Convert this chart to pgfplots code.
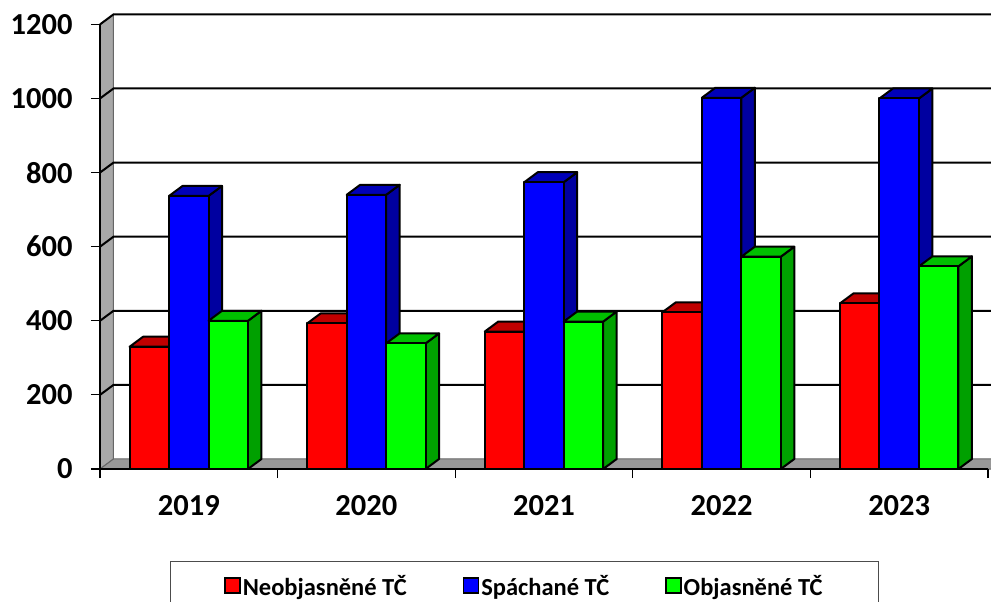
\documentclass[border=0pt]{standalone}
\usepackage{pgfplots}
\pgfplotsset{compat=1.18}
\usepackage{pgfplotstable}
\usepackage{fontspec}
\setmainfont{Carlito}

\definecolor{redF}{HTML}{FF0000}
\definecolor{redT}{HTML}{C00000}
\definecolor{redS}{HTML}{A00000}
\definecolor{blueF}{HTML}{0000FF}
\definecolor{blueT}{HTML}{0000B8}
\definecolor{blueS}{HTML}{0000A0}
\definecolor{greenF}{HTML}{00FF00}
\definecolor{greenT}{HTML}{00C000}
\definecolor{greenS}{HTML}{00A000}
\definecolor{wallC}{HTML}{A8A8A8}
\definecolor{floorC}{HTML}{989898}

\pgfplotstableread{
idx red blue green
0 330 737 400
1 393 740 339
2 371 774 398
3 423 1002 573
4 447 1000 547
}\datatable

\def\bw{0.2222}
\def\ddx{0.076}
\def\ddy{27}

\newcommand\threedbar[5]{%
  \pgfmathsetmacro\xa{#1-\bw/2}%
  \pgfmathsetmacro\xb{#1+\bw/2}%
  \pgfmathsetmacro\xc{#1-\bw/2+\ddx}%
  \pgfmathsetmacro\xd{#1+\bw/2+\ddx}%
  \pgfmathsetmacro\hlo{#2}%
  \pgfmathsetmacro\hup{#2+\ddy}%
  \edef\doit{%
    \noexpand\addplot[fill=#5,draw=black,line width=2pt,line join=round,forget plot] coordinates {(\xb,0) (\xd,\ddy) (\xd,\hup) (\xb,\hlo)} -- cycle;
    \noexpand\addplot[fill=#4,draw=black,line width=2pt,line join=round,forget plot] coordinates {(\xa,\hlo) (\xb,\hlo) (\xd,\hup) (\xc,\hup)} -- cycle;
    \noexpand\addplot[fill=#3,draw=black,line width=2pt,line join=round,forget plot] coordinates {(\xa,0) (\xb,0) (\xb,\hlo) (\xa,\hlo)} -- cycle;
  }\doit
}

\begin{document}
\begin{tikzpicture}
\path[use as bounding box] (-100pt,-133pt) rectangle (891pt,469pt);
\begin{axis}[name=ax, at={(0pt,0pt)}, anchor=south west,
  scale only axis, width=888pt, height=444.6pt,
  xmin=-0.5, xmax=4.5, ymin=0, ymax=1200, clip=false, axis on top,
  axis x line*=bottom, axis y line*=left,
  axis line style={black, line width=1.2pt},
  xtick={-0.5,0.5,...,4.5}, xticklabels={},
  extra x ticks={0,1,2,3,4},
  extra x tick labels={2019,2020,2021,2022,2023},
  extra x tick style={major tick length=0pt, xticklabel style={yshift=-23pt}},
  ytick={0,200,...,1200},
  tick pos=left, tick align=outside, major tick length=9pt,
  tick style={black, line width=1.2pt},
  /pgf/number format/assume math mode=true, /pgf/number format/1000 sep={},
  ticklabel style={font=\bfseries\fontsize{30.5}{36}\selectfont},
  yticklabel style={xshift=-15pt},
  legend columns=3,
  legend style={at={(0.478,-0.2063)}, anchor=north, draw=black!70, line width=1pt,
    font=\bfseries\fontsize{24.5}{29}\selectfont, inner xsep=54pt, inner ysep=12pt,
    /tikz/every even column/.append style={column sep=54pt}},
  legend image code/.code={\draw[#1,draw=black,line width=1.5pt] (0pt,-7pt) rectangle (15pt,8pt);},
]
% left wall and floor
\addplot[fill=wallC, draw=black!60, line width=1pt, forget plot] coordinates {(-0.5,0) (-0.5,1200) (-0.424,1227) (-0.424,27)} -- cycle;
\addplot[fill=floorC, draw=black!60, line width=1pt, forget plot] coordinates {(-0.5,0) (4.6,0) (4.6,27) (-0.424,27)} -- cycle;
% grid lines on the back wall
\pgfplotsinvokeforeach{200,400,...,1200}{%
  \pgfmathsetmacro\gy{#1+\ddy}%
  \edef\doit{\noexpand\addplot[black, line width=2pt, forget plot] coordinates {(-0.5,#1) (-0.424,\gy) (4.6,\gy)};}\doit
}
% bars
\pgfplotsinvokeforeach{0,...,4}{%
  \pgfplotstablegetelem{#1}{red}\of\datatable \let\vr\pgfplotsretval
  \pgfplotstablegetelem{#1}{blue}\of\datatable \let\vb\pgfplotsretval
  \pgfplotstablegetelem{#1}{green}\of\datatable \let\vg\pgfplotsretval
  \threedbar{#1-\bw}{\vr}{redF}{redT}{redS}
  \threedbar{#1}{\vb}{blueF}{blueT}{blueS}
  \threedbar{#1+\bw}{\vg}{greenF}{greenT}{greenS}
}
\addlegendimage{fill=redF}\addlegendentry{Neobjasněné TČ}
\addlegendimage{fill=blueF}\addlegendentry{Spáchané TČ}
\addlegendimage{fill=greenF}\addlegendentry{Objasněné TČ}
\end{axis}
\end{tikzpicture}
\end{document}
